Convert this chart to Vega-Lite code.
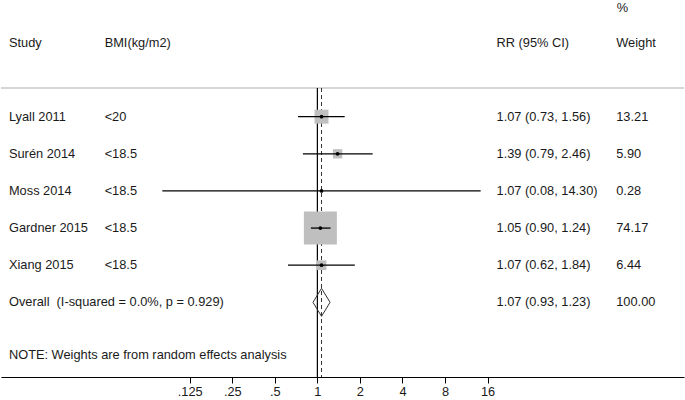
{
  "$schema": "https://vega.github.io/schema/vega-lite/v6.json",
  "width": 685,
  "height": 400,
  "padding": 0,
  "autosize": {"type": "fit", "contains": "padding"},
  "background": "white",
  "config": {
    "view": {"stroke": null},
    "text": {"font": "Liberation Sans", "fontSize": 12.8, "color": "#1a1a1a", "align": "left", "baseline": "middle"}
  },
  "datasets": {
    "studies": [
      {"study": "Lyall 2011", "bmi": "<20", "rr": 1.07, "lo": 0.73, "hi": 1.56, "weight": 13.21, "row": 1, "overall": false},
      {"study": "Surén 2014", "bmi": "<18.5", "rr": 1.39, "lo": 0.79, "hi": 2.46, "weight": 5.90, "row": 2, "overall": false},
      {"study": "Moss 2014", "bmi": "<18.5", "rr": 1.07, "lo": 0.08, "hi": 14.30, "weight": 0.28, "row": 3, "overall": false},
      {"study": "Gardner 2015", "bmi": "<18.5", "rr": 1.05, "lo": 0.90, "hi": 1.24, "weight": 74.17, "row": 4, "overall": false},
      {"study": "Xiang 2015", "bmi": "<18.5", "rr": 1.07, "lo": 0.62, "hi": 1.84, "weight": 6.44, "row": 5, "overall": false},
      {"study": "Overall\u00a0 (I-squared = 0.0%, p = 0.929)", "bmi": "", "rr": 1.07, "lo": 0.93, "hi": 1.23, "weight": 100.00, "row": 6, "overall": true}
    ],
    "headers": [
      {"study": "Study", "bmi": "BMI(kg/m2)", "ci": "RR (95% CI)", "weight": "Weight", "pct": "%"}
    ],
    "notes": [
      {"note": "NOTE: Weights are from random effects analysis"}
    ]
  },
  "layer": [
    {
      "data": {"name": "notes"},
      "mark": {"type": "rule", "color": "#d6d6d6", "strokeWidth": 2},
      "encoding": {"y": {"datum": 0.227, "type": "quantitative", "axis": null,
          "scale": {"domain": [-2.143, 8.011], "reverse": true, "nice": false, "zero": false}}}
    },
    {
      "data": {"name": "notes"},
      "mark": {"type": "rule", "color": "#000000", "strokeWidth": 1.2},
      "encoding": {
        "x": {"datum": 1, "type": "quantitative", "title": null,
              "scale": {"type": "log", "base": 2, "domain": [0.005774, 392.7], "nice": false},
              "axis": {"values": [0.125, 0.25, 0.5, 1, 2, 4, 8, 16], "grid": false, "title": null,
                       "labelExpr": "datum.value < 1 ? slice(toString(datum.value), 1) : toString(datum.value)",
                       "domainColor": "#000000", "domainWidth": 1.2, "tickColor": "#000000", "tickSize": 6, "tickWidth": 1,
                       "labelFont": "Liberation Sans", "labelFontSize": 12.8, "labelColor": "#1a1a1a", "labelPadding": 2,
                       "labelFlush": false, "labelOverlap": false, "minExtent": 23, "maxExtent": 23}},
        "y": {"datum": 0.227},
        "y2": {"datum": 8.011}
      }
    },
    {
      "data": {"name": "studies"},
      "transform": [{"filter": "datum.overall"}],
      "mark": {"type": "rule", "color": "#333333", "strokeWidth": 1, "strokeDash": [4, 3]},
      "encoding": {
        "x": {"field": "rr", "type": "quantitative", "title": null},
        "y": {"datum": 0.227},
        "y2": {"datum": 8.011}
      }
    },
    {
      "data": {"name": "studies"},
      "transform": [{"filter": "!datum.overall"}],
      "mark": {"type": "point", "shape": "square", "filled": true, "color": "#bfbfbf", "opacity": 1},
      "encoding": {
        "x": {"field": "rr", "type": "quantitative", "title": null},
        "y": {"field": "row", "type": "quantitative"},
        "size": {"field": "weight", "type": "quantitative", "legend": null,
                 "scale": {"type": "linear", "domain": [0, 74.17], "range": [0, 1089], "zero": true}}
      }
    },
    {
      "data": {"name": "studies"},
      "transform": [{"filter": "!datum.overall"}],
      "mark": {"type": "rule", "color": "#000000", "strokeWidth": 1.3},
      "encoding": {
        "x": {"field": "lo", "type": "quantitative", "title": null},
        "x2": {"field": "hi"},
        "y": {"field": "row", "type": "quantitative"}
      }
    },
    {
      "data": {"name": "studies"},
      "transform": [{"filter": "!datum.overall"}],
      "mark": {"type": "point", "shape": "circle", "filled": true, "color": "#000000", "size": 14, "opacity": 1},
      "encoding": {
        "x": {"field": "rr", "type": "quantitative", "title": null},
        "y": {"field": "row", "type": "quantitative"}
      }
    },
    {
      "data": {"name": "studies"},
      "transform": [{"filter": "datum.overall"}],
      "mark": {"type": "point", "shape": "M-0.61,0L0,-1L0.61,0L0,1Z", "filled": false, "stroke": "#333333", "strokeWidth": 1, "size": 784, "opacity": 1},
      "encoding": {
        "x": {"field": "rr", "type": "quantitative", "title": null},
        "y": {"field": "row", "type": "quantitative"}
      }
    },
    {
      "data": {"name": "studies"},
      "transform": [
        {"calculate": "format(datum.rr, '.2f') + ' (' + format(datum.lo, '.2f') + ', ' + format(datum.hi, '.2f') + ')'", "as": "ci"}
      ],
      "encoding": {"y": {"field": "row", "type": "quantitative"}},
      "layer": [
        {"mark": {"type": "text"}, "encoding": {"x": {"datum": 0.006574}, "text": {"field": "study"}}},
        {"mark": {"type": "text"}, "encoding": {"x": {"datum": 0.03125}, "text": {"field": "bmi"}}},
        {"mark": {"type": "text"}, "encoding": {"x": {"datum": 18.52}, "text": {"field": "ci"}}},
        {"mark": {"type": "text"}, "encoding": {"x": {"datum": 130.2}, "text": {"field": "weight", "format": ".2f"}}}
      ]
    },
    {
      "data": {"name": "headers"},
      "encoding": {"y": {"datum": -0.985}},
      "layer": [
        {"mark": {"type": "text"}, "encoding": {"x": {"datum": 0.006574}, "text": {"field": "study"}}},
        {"mark": {"type": "text"}, "encoding": {"x": {"datum": 0.03125}, "text": {"field": "bmi"}}},
        {"mark": {"type": "text"}, "encoding": {"x": {"datum": 18.52}, "text": {"field": "ci"}}},
        {"mark": {"type": "text"}, "encoding": {"x": {"datum": 130.2}, "text": {"field": "weight"}}},
        {"mark": {"type": "text"}, "encoding": {"x": {"datum": 131.5}, "y": {"datum": -1.93}, "text": {"field": "pct"}}}
      ]
    },
    {
      "data": {"name": "notes"},
      "mark": {"type": "text"},
      "encoding": {"x": {"datum": 0.006574}, "y": {"datum": 7.418}, "text": {"field": "note"}}
    }
  ]
}
